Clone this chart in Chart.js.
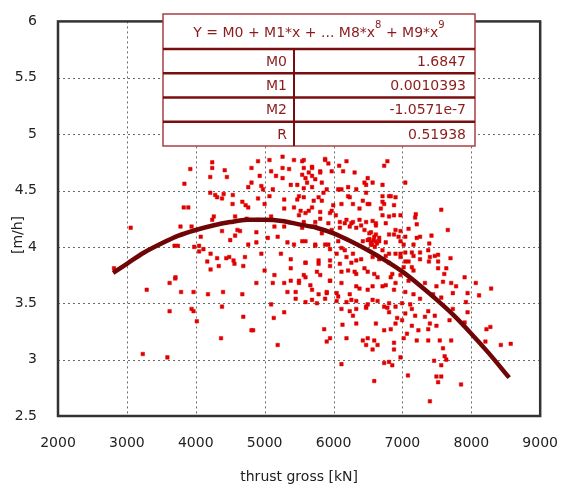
<!DOCTYPE html>
<html>
<head>
<meta charset="utf-8">
<script src="https://cdn.jsdelivr.net/npm/chart.js@4.4.0/dist/chart.umd.min.js"></script>
<style>
    html, body { margin: 0; padding: 0; background: #fff; }
</style>
</head>
<body>
<canvas id="chart" width="569" height="486"></canvas>
<script>
// measured samples [thrust gross kN, rate m/h]
const samples = [
    [4239,4.75],[4239,4.70],[3921,4.69],[4420,4.68],[4210,4.62],[4452,4.62],[3835,4.56],[4762,4.53],[4210,4.48],[4282,4.46],
    [4405,4.47],[4310,4.44],[4381,4.43],[4538,4.46],[4534,4.38],[4676,4.40],[4724,4.37],[4762,4.35],[3825,4.35],[3892,4.35],
    [4262,4.27],[4239,4.24],[4571,4.27],[4738,4.25],[3778,4.18],[3939,4.18],[3055,4.17],[4381,4.14],[4605,4.15],[4643,4.14],
    [4571,4.10],[4500,4.06],[4072,4.09],[3692,4.01],[3740,4.01],[3977,4.00],[4048,4.01],[4762,4.02],[4111,3.98],[4048,3.96],
    [4215,3.94],[4167,3.87],[4310,3.90],[4443,3.90],[4486,3.91],[4714,3.91],[4548,3.88],[4562,3.85],[4334,3.83],[4690,3.83],
    [4215,3.80],[2813,3.81],[3706,3.73],
    [3701,3.72],[3620,3.68],[3288,3.62],[3787,3.60],[3968,3.60],[4177,3.58],[4396,3.60],[4676,3.58],[3939,3.45],[3968,3.43],
    [3620,3.43],[4381,3.47],[4690,3.38],[4015,3.34],[4809,3.26],[4367,3.19],[3231,3.05],[3588,3.02],
    [4904,4.76],[5070,4.77],[5260,4.80],[5426,4.77],[5568,4.77],[5878,4.78],[6188,4.76],[6782,4.76],[6735,4.72],[4809,4.70],
    [5094,4.67],[5260,4.70],[5355,4.69],[5568,4.70],[5688,4.70],[5925,4.74],[5973,4.67],[6139,4.67],[6082,4.72],[4928,4.63],
    [5165,4.63],[5260,4.61],[5545,4.64],[5688,4.63],[5807,4.66],[6306,4.66],[6496,4.61],[6567,4.57],[4809,4.57],[5379,4.55],
    [5474,4.55],[5616,4.57],[5735,4.60],[5830,4.57],[5901,4.51],[5568,4.52],[5688,4.53],[4952,4.54],[4976,4.51],[5118,4.51],
    [6115,4.51],[6212,4.53],[6449,4.57],[6711,4.55],[6473,4.48],[6235,4.44],[4904,4.43],[5070,4.45],[5284,4.42],[5474,4.42],
    [5568,4.44],[5830,4.41],[5996,4.37],[6115,4.38],[6282,4.38],[6377,4.34],[6496,4.38],[6711,4.40],[6806,4.45],[6900,4.44],
    [4999,4.38],[5284,4.34],[5426,4.35],[5522,4.32],[5688,4.35],[5498,4.28],[5593,4.30],[5807,4.31],[5949,4.30],[6034,4.28],
    [6687,4.34],[6711,4.28],[6878,4.28],[4904,4.24],[5094,4.27],[5807,4.25],[5925,4.21],[6092,4.22],[6188,4.24],[6259,4.21],
    [6377,4.24],[6473,4.22],[6567,4.23],[6615,4.19],[6758,4.21],[4880,4.13],[5142,4.18],[5284,4.18],[5545,4.17],[5688,4.18],
    [5735,4.22],[5973,4.15],[6092,4.17],[6235,4.18],[6330,4.17],[6449,4.15],[6544,4.13],[6591,4.09],[6663,4.08],[6806,4.11],
    [6900,4.15],[6496,4.06],[6544,4.04],[6425,4.05],[4880,4.04],[5046,4.08],[5189,4.09],[5331,4.04],[5426,4.02],[5593,4.05],
    [5735,4.01],[5878,4.02],[5949,3.98],[6045,3.94],[6115,3.99],[6188,3.91],[6259,3.86],[6330,3.88],[6711,3.97],[6758,3.92],
    [6900,3.94],[6806,3.86],[4952,3.94],[5236,3.94],[5379,3.89],[5593,3.86],[5783,3.85],[5949,3.83],[6115,3.78],[6306,3.78],
    [6449,3.81],[6591,3.76],[6853,3.76],[4999,3.79],[5142,3.75],[5379,3.81],[5568,3.75],[5759,3.78],
    [4880,3.68],[5118,3.68],[5284,3.68],[5379,3.70],[5498,3.70],[5664,3.66],[5949,3.70],[5331,3.60],[5450,3.60],[5783,3.58],
    [5901,3.60],[6045,3.59],[6235,3.58],[6377,3.63],[6567,3.65],[6758,3.66],[6900,3.68],[5094,3.49],[5593,3.51],[5759,3.50],
    [5878,3.54],[6045,3.52],[6188,3.51],[6330,3.52],[6496,3.49],[6639,3.52],[6806,3.50],[6900,3.47],[5284,3.42],[5132,3.37],
    [6115,3.45],[6235,3.43],[6282,3.39],[6330,3.45],[6473,3.46],[6782,3.46],[6806,3.42],[6924,3.37],[6330,3.32],[6615,3.32],
    [6735,3.26],[6830,3.27],[6900,3.32],[6130,3.31],[5864,3.27],[4833,3.26],[6188,3.19],[5949,3.19],[5901,3.16],[6425,3.17],
    [6496,3.19],[6473,3.13],[6591,3.17],[6639,3.13],[6567,3.09],[6878,3.15],[6878,3.09],[5189,3.13],[6735,2.97],[6806,2.98],
    [6853,2.95],[6115,2.96],[6591,2.81],
    [7042,4.57],[7564,4.33],[7194,4.29],[7185,4.26],[7208,4.20],[7089,4.16],[7659,4.15],[6972,4.14],[6944,4.09],[7042,4.09],
    [7422,4.10],[7208,4.08],[7256,4.09],[7018,4.02],[7161,4.02],[7390,4.03],[7375,3.97],[7137,3.95],[7161,3.92],[7256,3.95],
    [7042,3.95],[6972,3.94],[7518,3.93],[7470,3.92],[7698,3.90],[7256,3.89],[7399,3.91],[7042,3.87],[7089,3.87],[7518,3.87],
    [7385,3.87],[7137,3.82],[7018,3.82],[7518,3.81],[7637,3.81],[7161,3.79],[7608,3.76],[7903,3.73],
    [7089,3.70],[7327,3.68],[7494,3.65],[7589,3.69],[7708,3.68],[7779,3.65],[8065,3.68],[7732,3.59],[7946,3.59],[8113,3.57],
    [8288,3.63],[7042,3.60],[7161,3.58],[7256,3.54],[7446,3.58],[7564,3.55],[7922,3.51],[6995,3.50],[7113,3.49],[7375,3.43],
    [7137,3.45],[7732,3.45],[7946,3.42],[7042,3.41],[7185,3.39],[7327,3.38],[7470,3.39],[7684,3.35],[6995,3.35],[7137,3.30],
    [7399,3.32],[7494,3.30],[7903,3.33],[7232,3.26],[7375,3.27],[8220,3.27],[8277,3.29],[7066,3.23],[7542,3.17],[7708,3.17],
    [7208,3.17],[7375,3.17],[8205,3.16],[8429,3.13],[8572,3.14],[7018,3.19],[7589,3.10],[7613,3.03],[6972,3.02],[7460,2.99],
    [7564,2.95],[7637,3.00],[7080,2.86],[7494,2.85],[7564,2.85],[7518,2.80],[7851,2.78],[7399,2.63],
    [5545,4.76],[5593,4.61],[5640,4.66],[5688,4.71],[5807,4.67],[5878,4.77],[5854,4.48],[5783,4.44],[5498,4.45],[5712,4.41],
    [5640,4.32],[5973,4.32],[6068,4.51],[6211,4.45],[6330,4.51],[6473,4.55],[6425,4.41],[6520,4.38],[6711,4.45],[6830,4.45],
    [6735,4.38],[6878,4.37],[6972,4.28],[6806,4.27],[6163,4.21],[6282,4.22],[6401,4.19],[6615,4.21],[6520,4.12],[6615,4.11],
    [6663,4.05],[6544,4.02],[6758,4.04],[6878,4.11],[6972,4.05],[5568,4.22],[5735,4.18],[5830,4.12],[5545,4.05],[5735,4.02],
    [5925,4.02],[6068,4.05],[6163,3.97],[6282,3.94],[6401,3.89],[6567,3.91],[6663,3.89],[6806,3.94],[6972,3.91],[5593,3.86],
    [5783,3.88],[5949,3.88],[6092,3.85],[6211,3.79],[6330,3.76],[6496,3.78],[6639,3.73],[6830,3.73],[6972,3.75],[5593,3.73],
    [5807,3.75],[5949,3.70],[6115,3.68],[6330,3.65],[6496,3.62],[6711,3.65],[6878,3.62],[5688,3.62],[5901,3.59],[5498,3.68],
    [5450,3.54],[5688,3.53],[6068,3.56],[6259,3.53],[6567,3.53],[6735,3.47],[6473,3.47],
    [6520,4.07],[6580,4.06],[6610,4.05],[6560,4.02],[6600,4.00],[6630,4.03]
];

// fitted curve
const fitX = [2800, 3000, 3250, 3500, 3750, 4000, 4250, 4500, 4750, 5000, 5250, 5500, 5750, 6000,
              6250, 6500, 6750, 7000, 7250, 7500, 7750, 8000, 8250, 8550];
const fitY = [3.77, 3.85, 3.95, 4.03, 4.10, 4.15, 4.19, 4.22, 4.24, 4.24, 4.23, 4.20, 4.17, 4.12,
              4.05, 3.97, 3.88, 3.78, 3.66, 3.53, 3.39, 3.23, 3.06, 2.84];

// coefficient table
const tableTitle = ['Y = M0 + M1*x + ... M8*x', '8', ' + M9*x', '9'];
const coefNames = ['M0', 'M1', 'M2', 'R'];
const coefValues = ['1.6847', '0.0010393', '-1.0571e-7', '0.51938'];

const FONT = 'DejaVu Sans';

// dotted grid under the data (small dashes drawn as 1px rects)
const grid = {
    id: 'dottedGrid',
    beforeDatasetsDraw(chart) {
        const ctx = chart.ctx;
        const a = chart.chartArea;
        ctx.save();
        ctx.fillStyle = '#6a6a6a';
        chart.scales.x.ticks.forEach(t => {
            const x = Math.round(chart.scales.x.getPixelForValue(t.value));
            for (let y = a.top; y < a.bottom; y += 5) {
                ctx.fillRect(x, y, 1, 2);
            }
        });
        chart.scales.y.ticks.forEach(t => {
            const y = Math.round(chart.scales.y.getPixelForValue(t.value));
            for (let x = a.left; x < a.right; x += 5) {
                ctx.fillRect(x, y, 2, 1);
            }
        });
        ctx.restore();
    }
};

// frame, y title and the coefficient table drawn on top
const overlay = {
    id: 'overlay',
    afterDatasetsDraw(chart) {
        const ctx = chart.ctx;
        const a = chart.chartArea;
        ctx.save();

        ctx.strokeStyle = '#333';
        ctx.lineWidth = 2.5;
        ctx.strokeRect(a.left, a.top, a.right - a.left, a.bottom - a.top);

        // y axis title
        ctx.save();
        ctx.translate(18, 235);
        ctx.rotate(-Math.PI / 2);
        ctx.fillStyle = '#222';
        ctx.font = '14px "' + FONT + '"';
        ctx.textAlign = 'center';
        ctx.textBaseline = 'middle';
        ctx.fillText('[m/h]', 0, 0);
        ctx.restore();

        // table
        const left = 163, right = 475, top = 14, headH = 35, rowH = 24.25, split = 294;
        const bottom = top + headH + rowH * coefNames.length;
        ctx.fillStyle = '#fff';
        ctx.fillRect(left, top, right - left, bottom - top);
        ctx.strokeStyle = '#a84040';
        ctx.lineWidth = 1.5;
        ctx.strokeRect(left, top, right - left, bottom - top);

        ctx.strokeStyle = '#7a0e0e';
        ctx.lineWidth = 2.5;
        for (let i = 0; i < coefNames.length; i++) {
            const y = top + headH + rowH * i;
            ctx.beginPath();
            ctx.moveTo(left, y);
            ctx.lineTo(right, y);
            ctx.stroke();
        }
        ctx.lineWidth = 2;
        ctx.beginPath();
        ctx.moveTo(split, top + headH);
        ctx.lineTo(split, bottom);
        ctx.stroke();

        ctx.fillStyle = '#8b1c1c';
        ctx.textBaseline = 'middle';
        const big = '14px "' + FONT + '"';
        const small = '10px "' + FONT + '"';
        // header with superscripts
        let total = 0;
        tableTitle.forEach((t, i) => {
            ctx.font = i % 2 ? small : big;
            total += ctx.measureText(t).width;
        });
        let x = (left + right) / 2 - total / 2;
        const hy = top + headH / 2 + 2;
        ctx.textAlign = 'left';
        tableTitle.forEach((t, i) => {
            ctx.font = i % 2 ? small : big;
            ctx.fillText(t, x, i % 2 ? hy - 8 : hy);
            x += ctx.measureText(t).width;
        });

        ctx.font = big;
        ctx.textAlign = 'right';
        coefNames.forEach((n, i) => {
            const y = top + headH + rowH * i + rowH / 2 + 1;
            ctx.fillText(n, split - 7, y);
            ctx.fillText(coefValues[i], right - 9, y);
        });

        ctx.restore();
    }
};

const ctx = document.getElementById('chart').getContext('2d');

new Chart(ctx, {
    type: 'scatter',
    data: {
        datasets: [{
            label: 'fit',
            data: fitX.map((x, i) => ({ x: x, y: fitY[i] })),
            showLine: true,
            borderColor: '#700505',
            borderWidth: 4.5,
            pointRadius: 0,
            cubicInterpolationMode: 'monotone',
            order: 1
        }, {
            label: 'samples',
            data: samples.map(p => ({ x: p[0], y: p[1] })),
            pointStyle: 'rect',
            pointRadius: 2.5,
            pointBackgroundColor: '#e00000',
            pointBorderColor: '#e00000',
            pointBorderWidth: 0.5,
            order: 2
        }]
    },
    options: {
        responsive: false,
        animation: false,
        devicePixelRatio: 1,
        layout: { padding: { top: 11, right: 20, left: 0, bottom: 0 } },
        plugins: {
            legend: { display: false },
            tooltip: { enabled: false }
        },
        scales: {
            x: {
                type: 'linear',
                min: 2000,
                max: 9000,
                afterFit: s => { s.height = 70; },
                ticks: {
                    stepSize: 1000,
                    callback: v => String(v),
                    color: '#222',
                    font: { family: FONT, size: 14 },
                    padding: 11
                },
                grid: { display: false },
                border: { display: false },
                title: {
                    display: true,
                    text: 'thrust gross [kN]',
                    color: '#222',
                    font: { family: FONT, size: 14 },
                    padding: { top: 0, bottom: 0 }
                }
            },
            y: {
                min: 2.5,
                max: 6,
                afterFit: s => { s.width = 58; },
                ticks: {
                    stepSize: 0.5,
                    callback: v => String(v),
                    color: '#222',
                    font: { family: FONT, size: 14 },
                    padding: 13
                },
                grid: { display: false },
                border: { display: false }
            }
        }
    },
    plugins: [grid, overlay]
});
</script>
</body>
</html>
